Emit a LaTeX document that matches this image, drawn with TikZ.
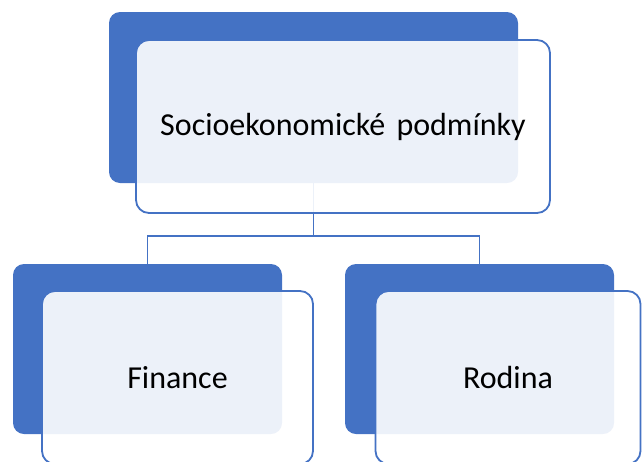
\documentclass[tikz,border=0pt]{standalone}
\usepackage{fontspec}
\setmainfont{Carlito}
\definecolor{accent}{HTML}{4472C4}
\begin{document}
\begin{tikzpicture}[x=1pt,y=-1pt,
  backbox/.style={fill=accent, draw=none, rounded corners=11pt, inner sep=0pt, outer sep=0pt, minimum width=#1},
  frontbox/.style={draw=accent, line width=1.8pt, fill=white, fill opacity=0.9, text opacity=1, rounded corners=13pt, inner sep=0pt, outer sep=0pt, minimum width=#1, minimum height=173pt, font=\fontsize{32}{38}\selectfont},
  conn/.style={draw=accent, line width=1.8pt}]
\useasboundingbox (0,0) rectangle (642,461);
% back boxes
\node[backbox=409pt, minimum height=171pt] (tb) at (313.5,97.5) {};
\node[backbox=269pt, minimum height=170pt] (lb) at (147.5,349) {};
\node[backbox=269pt, minimum height=170pt] (rb) at (479.5,349) {};
% connectors
\coordinate (br) at (313.5,236);
\draw[conn] (tb.south) -- (br) -| (lb.north);
\draw[conn] (br) -| (rb.north);
% front boxes
\node[frontbox=414pt] (tf) at (343,126.5) {Socioekonomické\hspace{0.35em}podmínky};
\node[frontbox=271pt] (lf) at (177.5,377.5) {Finance};
\node[frontbox=265pt] (rf) at (508,377.5) {Rodina};
\end{tikzpicture}
\end{document}
